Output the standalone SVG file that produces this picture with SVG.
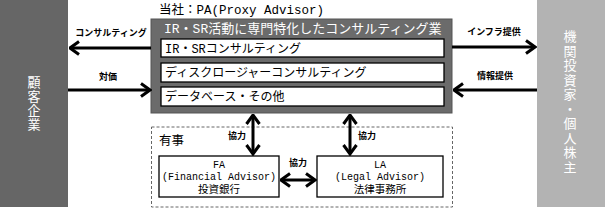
<svg xmlns="http://www.w3.org/2000/svg" width="605" height="209" viewBox="0 0 605 209">
<style>
text{font-family:"Liberation Mono","Noto Sans CJK JP",monospace;fill:#000}
.w{fill:#fff}
.lbl{font-size:9px;font-weight:bold;text-anchor:middle;font-family:"Noto Sans CJK JP",sans-serif}
.vert{writing-mode:vertical-rl;font-family:"Noto Sans CJK JP",sans-serif;font-size:13px;fill:#fff}
.box{fill:#fff;stroke:#000;stroke-width:1.3}
.con{stroke:#000;stroke-width:3;fill:none}
</style>
<defs>
<marker id="ah" viewBox="0 0 12 16" refX="10.5" refY="8" markerWidth="12" markerHeight="16" markerUnits="userSpaceOnUse" orient="auto-start-reverse">
<path d="M1.5,1.5 L10.5,8 L1.5,14.5" fill="none" stroke="#000" stroke-width="3"/>
</marker>
</defs>
<g id="client">
<rect x="0" y="0" width="68" height="207" fill="#666"/>
<text class="vert" x="34" y="76" letter-spacing="1">顧客企業</text>
</g>
<g id="investor">
<rect x="537" y="0" width="68" height="207" fill="#b3b3b3"/>
<text class="vert" x="570" y="30" letter-spacing="1.5">機関投資家・個人株主</text>
</g>
<g id="pa">
<text x="159" y="14" font-size="12.5">当社：PA(Proxy Advisor)</text>
<rect x="151" y="19" width="301" height="94" fill="#6b6b6b" stroke="#555" stroke-width="1"/>
<text class="w" x="164" y="33" font-size="13">IR・SR活動に専門特化したコンサルティング業</text>
<rect class="box" x="161" y="39" width="283" height="18"/>
<text x="165" y="52.5" font-size="12">IR・SRコンサルティング</text>
<rect class="box" x="161" y="63" width="283" height="19"/>
<text x="165" y="77" font-size="12">ディスクロージャーコンサルティング</text>
<rect class="box" x="161" y="87" width="283" height="19"/>
<text x="165" y="101" font-size="12">データベース・その他</text>
</g>
<g id="contingency">
<rect x="151.5" y="127" width="301" height="80" fill="none" stroke="#666" stroke-width="1" stroke-dasharray="3,2"/>
<text x="159" y="145" font-size="12.5">有事</text>
</g>
<g id="fa">
<rect class="box" x="159" y="156" width="120" height="41"/>
<text x="219" y="168" font-size="10" text-anchor="middle">FA</text>
<text x="219" y="180" font-size="10" text-anchor="middle">(Financial Advisor)</text>
<text x="219" y="193" font-size="10.5" text-anchor="middle">投資銀行</text>
</g>
<g id="la">
<rect class="box" x="317" y="156" width="126" height="41"/>
<text x="380" y="168" font-size="10" text-anchor="middle">LA</text>
<text x="380" y="180" font-size="10" text-anchor="middle">(Legal Advisor)</text>
<text x="380" y="193" font-size="10.5" text-anchor="middle">法律事務所</text>
</g>
<g id="connectors">
<line class="con" x1="151" y1="48" x2="70" y2="48" marker-end="url(#ah)"/>
<text class="lbl" x="111" y="36">コンサルティング</text>
<line class="con" x1="68" y1="90" x2="150" y2="90" marker-end="url(#ah)"/>
<text class="lbl" x="108" y="80">対価</text>
<line class="con" x1="452" y1="47" x2="535" y2="47" marker-end="url(#ah)"/>
<text class="lbl" x="494" y="35">インフラ提供</text>
<line class="con" x1="537" y1="90" x2="454" y2="90" marker-end="url(#ah)"/>
<text class="lbl" x="495" y="79">情報提供</text>
<line class="con" x1="253" y1="115" x2="253" y2="154" marker-start="url(#ah)" marker-end="url(#ah)"/>
<text class="lbl" x="237" y="139">協力</text>
<line class="con" x1="350" y1="115" x2="350" y2="154" marker-start="url(#ah)" marker-end="url(#ah)"/>
<text class="lbl" x="367" y="139">協力</text>
<line class="con" x1="281" y1="180" x2="315" y2="180" marker-start="url(#ah)" marker-end="url(#ah)"/>
<text class="lbl" x="298" y="166">協力</text>
</g>
</svg>
